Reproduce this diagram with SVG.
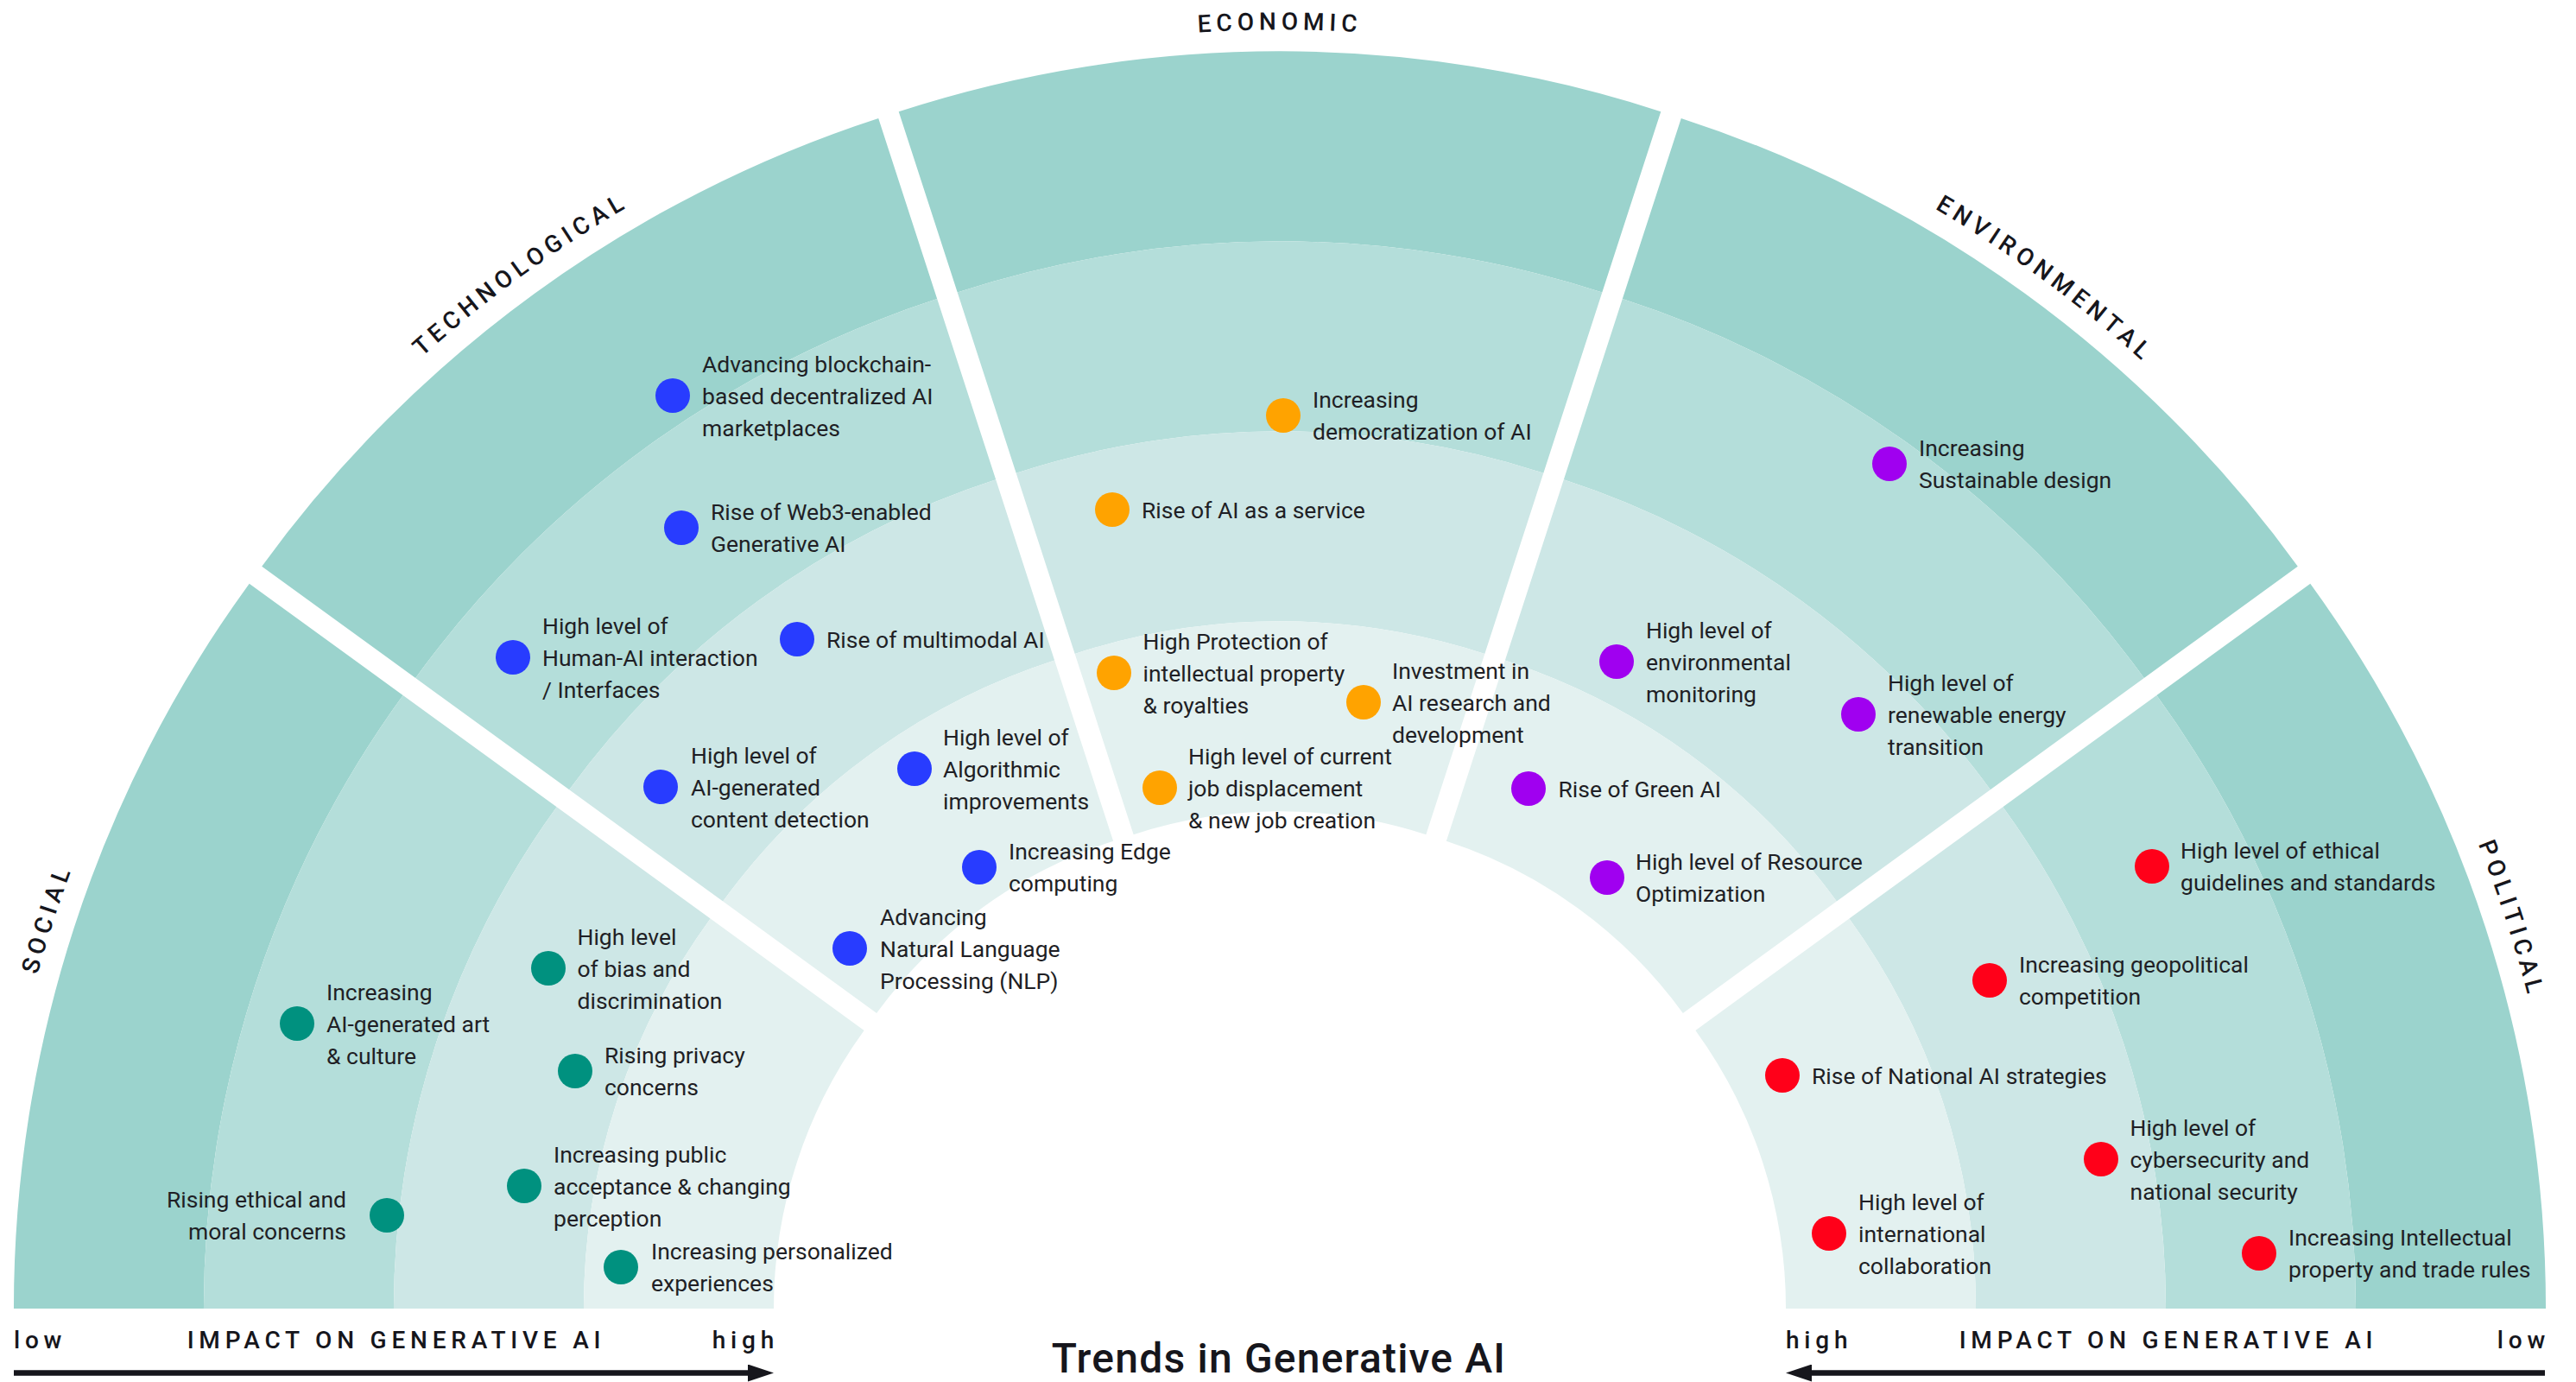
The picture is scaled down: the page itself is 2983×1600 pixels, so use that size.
<svg xmlns="http://www.w3.org/2000/svg" width="2983" height="1600" viewBox="0 0 2983 1600">
  <style>
    text { font-family: Roboto, "Liberation Sans", sans-serif; fill: #1f1f25; }
    .lbl { font-size: 26.5px; }
    .cat, .axis { font-size: 28px; font-weight: 500; letter-spacing: 5.8px; fill: #16161c; }
    .title { font-size: 48px; font-weight: 500; letter-spacing: 1.2px; fill: #16161c; }
    .r4 { fill: #9BD3CD; }
    .r3 { fill: #B4DEDA; }
    .r2 { fill: #CDE7E6; }
    .r1 { fill: #E3F1F0; }
    .soc { fill: #00917F; }
    .tec { fill: #283CFF; }
    .eco { fill: #FFA300; }
    .env { fill: #A000F0; }
    .pol { fill: #FF0019; }
    .arrow { stroke: #16161c; stroke-width: 6.5; fill: none; }
  </style>
  <defs>
    <!-- one 36° sector pointing straight up, centred on the origin; rings from low (outer) to high (inner) impact -->
    <path id="ring4" d="M -441.28 -1358.11 A 1428 1428 0 0 1 441.28 -1358.11 L 373.29 -1148.88 A 1208 1208 0 0 0 -373.29 -1148.88 Z"/>
    <path id="ring3" d="M -373.29 -1148.88 A 1208 1208 0 0 1 373.29 -1148.88 L 305.31 -939.64 A 988 988 0 0 0 -305.31 -939.64 Z"/>
    <path id="ring2" d="M -305.31 -939.64 A 988 988 0 0 1 305.31 -939.64 L 237.32 -730.41 A 768 768 0 0 0 -237.32 -730.41 Z"/>
    <path id="ring1" d="M -237.32 -730.41 A 768 768 0 0 1 237.32 -730.41 L 169.34 -521.18 A 548 548 0 0 0 -169.34 -521.18 Z"/>
    <!-- baseline arc for the category names, just outside the outer ring -->
    <path id="labelArc" d="M -449.00 -1381.89 A 1453 1453 0 0 1 449.00 -1381.89" fill="none"/>
    <marker id="arrowhead" viewBox="0 0 30 20" refX="14" refY="10" markerWidth="30" markerHeight="20" markerUnits="userSpaceOnUse" orient="auto">
      <path d="M0 0 L30 10 L0 20 Z" fill="#16161c"/>
    </marker>
  </defs>

  <rect width="2983" height="1600" fill="#ffffff"/>

  <!-- exploded half-donut: each sector shifted 40px outward along its bisector -->
  <g id="sectors">
    <g id="sector-social" transform="translate(1443.96 1515) rotate(-72)">
      <use href="#ring4" class="r4"/><use href="#ring3" class="r3"/><use href="#ring2" class="r2"/><use href="#ring1" class="r1"/>
      <text class="cat"><textPath href="#labelArc" startOffset="50%" text-anchor="middle">SOCIAL</textPath></text>
    </g>
    <g id="sector-technological" transform="translate(1458.49 1495) rotate(-36)">
      <use href="#ring4" class="r4"/><use href="#ring3" class="r3"/><use href="#ring2" class="r2"/><use href="#ring1" class="r1"/>
      <text class="cat"><textPath href="#labelArc" startOffset="50%" text-anchor="middle">TECHNOLOGICAL</textPath></text>
    </g>
    <g id="sector-economic" transform="translate(1482 1487.36)">
      <use href="#ring4" class="r4"/><use href="#ring3" class="r3"/><use href="#ring2" class="r2"/><use href="#ring1" class="r1"/>
      <text class="cat"><textPath href="#labelArc" startOffset="50%" text-anchor="middle">ECONOMIC</textPath></text>
    </g>
    <g id="sector-environmental" transform="translate(1505.51 1495) rotate(36)">
      <use href="#ring4" class="r4"/><use href="#ring3" class="r3"/><use href="#ring2" class="r2"/><use href="#ring1" class="r1"/>
      <text class="cat"><textPath href="#labelArc" startOffset="51%" text-anchor="middle">ENVIRONMENTAL</textPath></text>
    </g>
    <g id="sector-political" transform="translate(1520.04 1515) rotate(72)">
      <use href="#ring4" class="r4"/><use href="#ring3" class="r3"/><use href="#ring2" class="r2"/><use href="#ring1" class="r1"/>
      <text class="cat"><textPath href="#labelArc" startOffset="50%" text-anchor="middle">POLITICAL</textPath></text>
    </g>
  </g>

  <!-- social trends -->
  <g id="social">
    <g id="soc-ai-art"><circle class="soc" cx="344" cy="1185" r="20"/>
      <text class="lbl"><tspan x="378" y="1157.5">Increasing</tspan><tspan x="378" y="1194.5">AI-generated art</tspan><tspan x="378" y="1231.5">&amp; culture</tspan></text></g>
    <g id="soc-bias"><circle class="soc" cx="635" cy="1121" r="20"/>
      <text class="lbl"><tspan x="668.5" y="1093.5">High level</tspan><tspan x="668.5" y="1130.5">of bias and</tspan><tspan x="668.5" y="1167.5">discrimination</tspan></text></g>
    <g id="soc-privacy"><circle class="soc" cx="666" cy="1240" r="20"/>
      <text class="lbl"><tspan x="700" y="1231">Rising privacy</tspan><tspan x="700" y="1268">concerns</tspan></text></g>
    <g id="soc-acceptance"><circle class="soc" cx="607" cy="1373" r="20"/>
      <text class="lbl"><tspan x="641" y="1345.5">Increasing public</tspan><tspan x="641" y="1382.5">acceptance &amp; changing</tspan><tspan x="641" y="1419.5">perception</tspan></text></g>
    <g id="soc-ethics"><circle class="soc" cx="448" cy="1407" r="20"/>
      <text class="lbl" text-anchor="end"><tspan x="401" y="1398">Rising ethical and</tspan><tspan x="401" y="1435">moral concerns</tspan></text></g>
    <g id="soc-personalized"><circle class="soc" cx="719" cy="1467" r="20"/>
      <text class="lbl"><tspan x="754" y="1458">Increasing personalized</tspan><tspan x="754" y="1495">experiences</tspan></text></g>
  </g>

  <!-- technological trends -->
  <g id="technological">
    <g id="tec-blockchain"><circle class="tec" cx="779" cy="458" r="20"/>
      <text class="lbl"><tspan x="813" y="430.5">Advancing blockchain-</tspan><tspan x="813" y="467.5">based decentralized AI</tspan><tspan x="813" y="504.5">marketplaces</tspan></text></g>
    <g id="tec-web3"><circle class="tec" cx="789" cy="611" r="20"/>
      <text class="lbl"><tspan x="823" y="602">Rise of Web3-enabled</tspan><tspan x="823" y="639">Generative AI</tspan></text></g>
    <g id="tec-interfaces"><circle class="tec" cx="594" cy="761" r="20"/>
      <text class="lbl"><tspan x="628" y="733.5">High level of</tspan><tspan x="628" y="770.5">Human-AI interaction</tspan><tspan x="628" y="807.5">/ Interfaces</tspan></text></g>
    <g id="tec-multimodal"><circle class="tec" cx="923" cy="740" r="20"/>
      <text class="lbl" x="957" y="749.5">Rise of multimodal AI</text></g>
    <g id="tec-detection"><circle class="tec" cx="765" cy="911" r="20"/>
      <text class="lbl"><tspan x="800" y="883.5">High level of</tspan><tspan x="800" y="920.5">AI-generated</tspan><tspan x="800" y="957.5">content detection</tspan></text></g>
    <g id="tec-algorithmic"><circle class="tec" cx="1059" cy="890" r="20"/>
      <text class="lbl"><tspan x="1092" y="862.5">High level of</tspan><tspan x="1092" y="899.5">Algorithmic</tspan><tspan x="1092" y="936.5">improvements</tspan></text></g>
    <g id="tec-edge"><circle class="tec" cx="1134" cy="1004" r="20"/>
      <text class="lbl"><tspan x="1168" y="995">Increasing Edge</tspan><tspan x="1168" y="1032">computing</tspan></text></g>
    <g id="tec-nlp"><circle class="tec" cx="984" cy="1098" r="20"/>
      <text class="lbl"><tspan x="1019" y="1070.5">Advancing</tspan><tspan x="1019" y="1107.5">Natural Language</tspan><tspan x="1019" y="1144.5">Processing (NLP)</tspan></text></g>
  </g>

  <!-- economic trends -->
  <g id="economic">
    <g id="eco-democratization"><circle class="eco" cx="1486" cy="481" r="20"/>
      <text class="lbl"><tspan x="1520" y="472">Increasing</tspan><tspan x="1520" y="509">democratization of AI</tspan></text></g>
    <g id="eco-aaas"><circle class="eco" cx="1288" cy="590" r="20"/>
      <text class="lbl" x="1322" y="599.5">Rise of AI as a service</text></g>
    <g id="eco-ip"><circle class="eco" cx="1290" cy="779" r="20"/>
      <text class="lbl"><tspan x="1323.5" y="751.5">High Protection of</tspan><tspan x="1323.5" y="788.5">intellectual property</tspan><tspan x="1323.5" y="825.5">&amp; royalties</tspan></text></g>
    <g id="eco-investment"><circle class="eco" cx="1579" cy="813" r="20"/>
      <text class="lbl"><tspan x="1612" y="785.5">Investment in</tspan><tspan x="1612" y="822.5">AI research and</tspan><tspan x="1612" y="859.5">development</tspan></text></g>
    <g id="eco-jobs"><circle class="eco" cx="1343" cy="912" r="20"/>
      <text class="lbl"><tspan x="1376" y="884.5">High level of current</tspan><tspan x="1376" y="921.5">job displacement</tspan><tspan x="1376" y="958.5">&amp; new job creation</tspan></text></g>
  </g>

  <!-- environmental trends -->
  <g id="environmental">
    <g id="env-sustainable"><circle class="env" cx="2188" cy="537" r="20"/>
      <text class="lbl"><tspan x="2222" y="528">Increasing</tspan><tspan x="2222" y="565">Sustainable design</tspan></text></g>
    <g id="env-monitoring"><circle class="env" cx="1872" cy="766" r="20"/>
      <text class="lbl"><tspan x="1906" y="738.5">High level of</tspan><tspan x="1906" y="775.5">environmental</tspan><tspan x="1906" y="812.5">monitoring</tspan></text></g>
    <g id="env-renewable"><circle class="env" cx="2152" cy="827" r="20"/>
      <text class="lbl"><tspan x="2186" y="799.5">High level of</tspan><tspan x="2186" y="836.5">renewable energy</tspan><tspan x="2186" y="873.5">transition</tspan></text></g>
    <g id="env-green-ai"><circle class="env" cx="1770" cy="913" r="20"/>
      <text class="lbl" x="1804.5" y="922.5">Rise of Green AI</text></g>
    <g id="env-resource"><circle class="env" cx="1861" cy="1016" r="20"/>
      <text class="lbl"><tspan x="1894" y="1007">High level of Resource</tspan><tspan x="1894" y="1044">Optimization</tspan></text></g>
  </g>

  <!-- political trends -->
  <g id="political">
    <g id="pol-ethics"><circle class="pol" cx="2492" cy="1003" r="20"/>
      <text class="lbl"><tspan x="2525" y="994">High level of ethical</tspan><tspan x="2525" y="1031">guidelines and standards</tspan></text></g>
    <g id="pol-geopolitics"><circle class="pol" cx="2304" cy="1135" r="20"/>
      <text class="lbl"><tspan x="2338" y="1126">Increasing geopolitical</tspan><tspan x="2338" y="1163">competition</tspan></text></g>
    <g id="pol-national"><circle class="pol" cx="2064" cy="1245" r="20"/>
      <text class="lbl" x="2098" y="1254.5">Rise of National AI strategies</text></g>
    <g id="pol-security"><circle class="pol" cx="2433" cy="1342" r="20"/>
      <text class="lbl"><tspan x="2466.5" y="1314.5">High level of</tspan><tspan x="2466.5" y="1351.5">cybersecurity and</tspan><tspan x="2466.5" y="1388.5">national security</tspan></text></g>
    <g id="pol-collaboration"><circle class="pol" cx="2118" cy="1428" r="20"/>
      <text class="lbl"><tspan x="2152" y="1400.5">High level of</tspan><tspan x="2152" y="1437.5">international</tspan><tspan x="2152" y="1474.5">collaboration</tspan></text></g>
    <g id="pol-trade"><circle class="pol" cx="2616" cy="1451" r="20"/>
      <text class="lbl"><tspan x="2650" y="1442">Increasing Intellectual</tspan><tspan x="2650" y="1479">property and trade rules</tspan></text></g>
  </g>

  <!-- impact axes under both halves -->
  <g id="axes">
    <text class="axis" x="16" y="1561">low</text>
    <text class="axis" x="459" y="1561" text-anchor="middle">IMPACT ON GENERATIVE AI</text>
    <text class="axis" x="902" y="1561" text-anchor="end">high</text>
    <line class="arrow" x1="16" y1="1589.5" x2="880" y2="1589.5" marker-end="url(#arrowhead)"/>

    <text class="axis" x="2068" y="1561">high</text>
    <text class="axis" x="2511" y="1561" text-anchor="middle">IMPACT ON GENERATIVE AI</text>
    <text class="axis" x="2953" y="1561" text-anchor="end">low</text>
    <line class="arrow" x1="2947" y1="1589.5" x2="2084" y2="1589.5" marker-end="url(#arrowhead)"/>
  </g>

  <text class="title" x="1481" y="1589" text-anchor="middle">Trends in Generative AI</text>
</svg>
